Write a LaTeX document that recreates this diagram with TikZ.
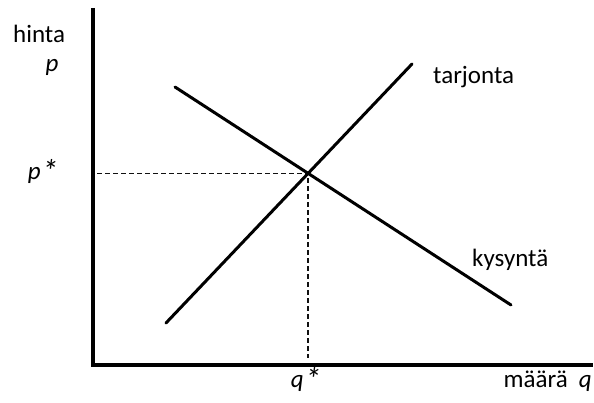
\documentclass[tikz,border=0pt]{standalone}
\usepackage{fontspec}
\setmainfont{Carlito}
\usepackage{graphicx}
\usepackage{xcolor}
\definecolor{Ink}{HTML}{000000}
\definecolor{Guide}{HTML}{111111}
\usepackage{tikz}
\usetikzlibrary{calc}
\newcommand{\eqstar}{\hspace{0.05em}\raisebox{-0.12em}{\scalebox{1.3}{*}}}
\tikzset{
  axis/.style={draw=Ink,line width=3.2pt},
  curve/.style={draw=Ink,line width=3pt,line cap=round},
  guide/.style={draw=Guide,line width=1.6pt,dash pattern=on 5pt off 3pt},
  txt/.style={text=Ink,font=\fontsize{25}{30}\selectfont,inner sep=0pt},
  mathtxt/.style={txt,font=\fontsize{25}{30}\selectfont\itshape}
}
\begin{document}
\begin{tikzpicture}[x=1pt,y=-1pt]
\useasboundingbox (0,0) rectangle (594,403);
\coordinate (ytop) at (93,8);
\coordinate (o) at (93,365);
\coordinate (xend) at (593,365);
\coordinate (s0) at (166,323);
\coordinate (s1) at (412,64);
\coordinate (d0) at (175,87);
\coordinate (d1) at (511,305);
\coordinate (eq) at (308,173.4);
\coordinate (pstar) at (97,173.4);
\coordinate (qstar) at (308,358);
\draw[axis] (ytop) -- (o) -- (xend);
\draw[guide] (pstar) -- (eq) -- (qstar);
\draw[curve] (s0) -- (s1);
\draw[curve] (d0) -- (d1);
\node[txt,anchor=base west] (hinta) at (13,43) {hinta};
\node[mathtxt,anchor=base] (p) at (52,72) {p};
\node[mathtxt,anchor=base] (plbl) at (43,180) {p\eqstar};
\node[mathtxt,anchor=base] (qlbl) at (306,387) {q\eqstar};
\node[txt,anchor=base east] (maara) at (592,387) {määrä\hspace{0.45em}\textit{q}};
\node[txt,anchor=base west] (tarjonta) at (433,84) {tarjonta};
\node[txt,anchor=base west] (kysynta) at (472,267) {kysyntä};
\end{tikzpicture}
\end{document}
